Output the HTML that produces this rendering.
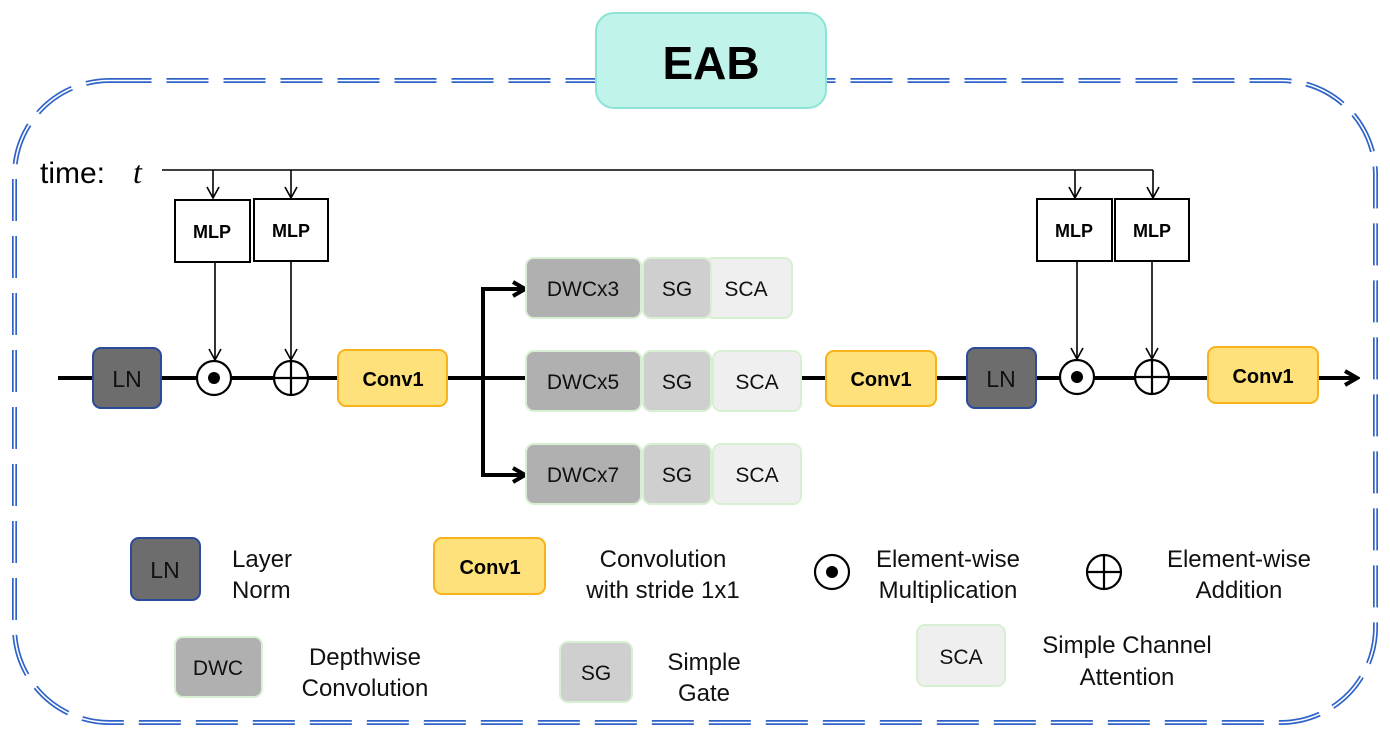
<!DOCTYPE html>
<html><head><meta charset="utf-8"><style>
html,body{margin:0;padding:0;background:#fff;}
svg{display:block;font-family:"Liberation Sans",Arial,sans-serif;}
</style></head><body>
<svg width="1390" height="738" viewBox="0 0 1390 738" xmlns="http://www.w3.org/2000/svg">
<defs>
<marker id="ah" markerWidth="14" markerHeight="14" refX="12" refY="7" orient="auto" markerUnits="userSpaceOnUse">
<path d="M1,1 L12,7 L1,13" fill="none" stroke="#000" stroke-width="1.6"/></marker>
<marker id="ahb" markerWidth="18" markerHeight="18" refX="15" refY="9" orient="auto" markerUnits="userSpaceOnUse">
<path d="M3,2 L15,9 L3,16" fill="none" stroke="#000" stroke-width="4"/></marker>
</defs>
<rect x="14.5" y="80.5" width="1361" height="642" rx="95" fill="none" stroke="#2f63c8" stroke-width="5" stroke-dasharray="42 15"/>
<rect x="14.5" y="80.5" width="1361" height="642" rx="95" fill="none" stroke="#fff" stroke-width="1.6" stroke-dasharray="42 15"/>
<rect x="596" y="13" width="230" height="95" rx="18" fill="#c0f3ea" stroke="#8de3d6" stroke-width="2"/>
<text x="711" y="79" font-size="46" font-weight="bold" text-anchor="middle">EAB</text>
<text x="40" y="183" font-size="30">time:</text>
<text x="133" y="183" font-size="32" font-style="italic" font-family="Liberation Serif,serif">t</text>
<path d="M162,170 H1153" stroke="#000" stroke-width="1.6" fill="none"/>
<path d="M213,170 V198" stroke="#000" stroke-width="1.6" marker-end="url(#ah)"/>
<path d="M291,170 V198" stroke="#000" stroke-width="1.6" marker-end="url(#ah)"/>
<path d="M1075,170 V198" stroke="#000" stroke-width="1.6" marker-end="url(#ah)"/>
<path d="M1153,170 V198" stroke="#000" stroke-width="1.6" marker-end="url(#ah)"/>
<g fill="#fff" stroke="#000" stroke-width="2">
<rect x="175" y="200" width="75" height="62"/>
<rect x="254" y="199" width="74" height="62"/>
<rect x="1037" y="199" width="75" height="62"/>
<rect x="1115" y="199" width="74" height="62"/>
</g>
<g font-size="18" font-weight="bold" text-anchor="middle">
<text x="212" y="238">MLP</text><text x="291" y="237">MLP</text>
<text x="1074" y="237">MLP</text><text x="1152" y="237">MLP</text>
</g>
<path d="M215,262 V360" stroke="#000" stroke-width="1.6" marker-end="url(#ah)"/>
<path d="M291,261 V360" stroke="#000" stroke-width="1.6" marker-end="url(#ah)"/>
<path d="M1077,261 V359" stroke="#000" stroke-width="1.6" marker-end="url(#ah)"/>
<path d="M1152,261 V359" stroke="#000" stroke-width="1.6" marker-end="url(#ah)"/>
<path d="M58,378 H1357" stroke="#000" stroke-width="4" fill="none" marker-end="url(#ahb)"/>
<path d="M483,289 V475" stroke="#000" stroke-width="4" fill="none"/>
<path d="M481,289 H525" stroke="#000" stroke-width="4" fill="none" marker-end="url(#ahb)"/>
<path d="M481,475 H525" stroke="#000" stroke-width="4" fill="none" marker-end="url(#ahb)"/>
<g fill="#6d6d6d" stroke="#2c4a9a" stroke-width="2">
<rect x="93" y="348" width="68" height="60" rx="8"/>
<rect x="967" y="348" width="69" height="60" rx="8"/>
<rect x="131" y="538" width="69" height="62" rx="8"/>
</g>
<g font-size="23" text-anchor="middle" fill="#111">
<text x="127" y="387">LN</text><text x="1001" y="387">LN</text><text x="165" y="578">LN</text>
</g>
<g fill="#fff" stroke="#000" stroke-width="2.2">
<circle cx="214" cy="378" r="17"/><circle cx="291" cy="378" r="17"/>
<circle cx="1077" cy="377" r="17"/><circle cx="1152" cy="377" r="17"/>
<circle cx="832" cy="572" r="17"/><circle cx="1104" cy="572" r="17"/>
</g>
<g fill="#000"><circle cx="214" cy="378" r="6"/><circle cx="1077" cy="377" r="6"/><circle cx="832" cy="572" r="6"/></g>
<g stroke="#000" stroke-width="2.2">
<path d="M274,378 H308 M291,361 V395"/>
<path d="M1135,377 H1169 M1152,360 V394"/>
<path d="M1087,572 H1121 M1104,555 V589"/>
</g>
<g fill="#fee17a" stroke="#f7b21c" stroke-width="2">
<rect x="338" y="350" width="109" height="56" rx="8"/>
<rect x="826" y="351" width="110" height="55" rx="8"/>
<rect x="1208" y="347" width="110" height="56" rx="8"/>
<rect x="434" y="538" width="111" height="56" rx="8"/>
</g>
<g font-size="20" font-weight="bold" text-anchor="middle">
<text x="393" y="386">Conv1</text><text x="881" y="386">Conv1</text>
<text x="1263" y="383">Conv1</text><text x="490" y="574">Conv1</text>
</g>
<g stroke="#d8f0d2" stroke-width="2">
<rect x="705" y="258" width="87" height="60" rx="8" fill="#efefef"/>
<rect x="526" y="258" width="115" height="60" rx="8" fill="#b0b0b0"/>
<rect x="643" y="258" width="68" height="60" rx="8" fill="#cfcfcf"/>
<rect x="526" y="351" width="115" height="60" rx="8" fill="#b0b0b0"/>
<rect x="643" y="351" width="68" height="60" rx="8" fill="#cfcfcf"/>
<rect x="713" y="351" width="88" height="60" rx="8" fill="#efefef"/>
<rect x="526" y="444" width="115" height="60" rx="8" fill="#b0b0b0"/>
<rect x="643" y="444" width="68" height="60" rx="8" fill="#cfcfcf"/>
<rect x="713" y="444" width="88" height="60" rx="8" fill="#efefef"/>
<rect x="175" y="637" width="87" height="60" rx="8" fill="#b0b0b0"/>
<rect x="560" y="642" width="72" height="60" rx="8" fill="#cfcfcf"/>
<rect x="917" y="625" width="88" height="61" rx="8" fill="#efefef"/>
</g>
<g font-size="21" text-anchor="middle" fill="#111">
<text x="583" y="296">DWCx3</text><text x="677" y="296">SG</text><text x="746" y="296">SCA</text>
<text x="583" y="389">DWCx5</text><text x="677" y="389">SG</text><text x="757" y="389">SCA</text>
<text x="583" y="482">DWCx7</text><text x="677" y="482">SG</text><text x="757" y="482">SCA</text>
<text x="218" y="675">DWC</text><text x="596" y="680">SG</text><text x="961" y="664">SCA</text>
</g>
<g font-size="24" fill="#111">
<text x="232" y="567">Layer</text><text x="232" y="598">Norm</text>
<g text-anchor="middle">
<text x="663" y="567">Convolution</text><text x="663" y="598">with stride 1x1</text>
<text x="948" y="567">Element-wise</text><text x="948" y="598">Multiplication</text>
<text x="1239" y="567">Element-wise</text><text x="1239" y="598">Addition</text>
<text x="365" y="665">Depthwise</text><text x="365" y="696">Convolution</text>
<text x="704" y="670">Simple</text><text x="704" y="701">Gate</text>
<text x="1127" y="653">Simple Channel</text><text x="1127" y="685">Attention</text>
</g></g>
</svg>
</body></html>
